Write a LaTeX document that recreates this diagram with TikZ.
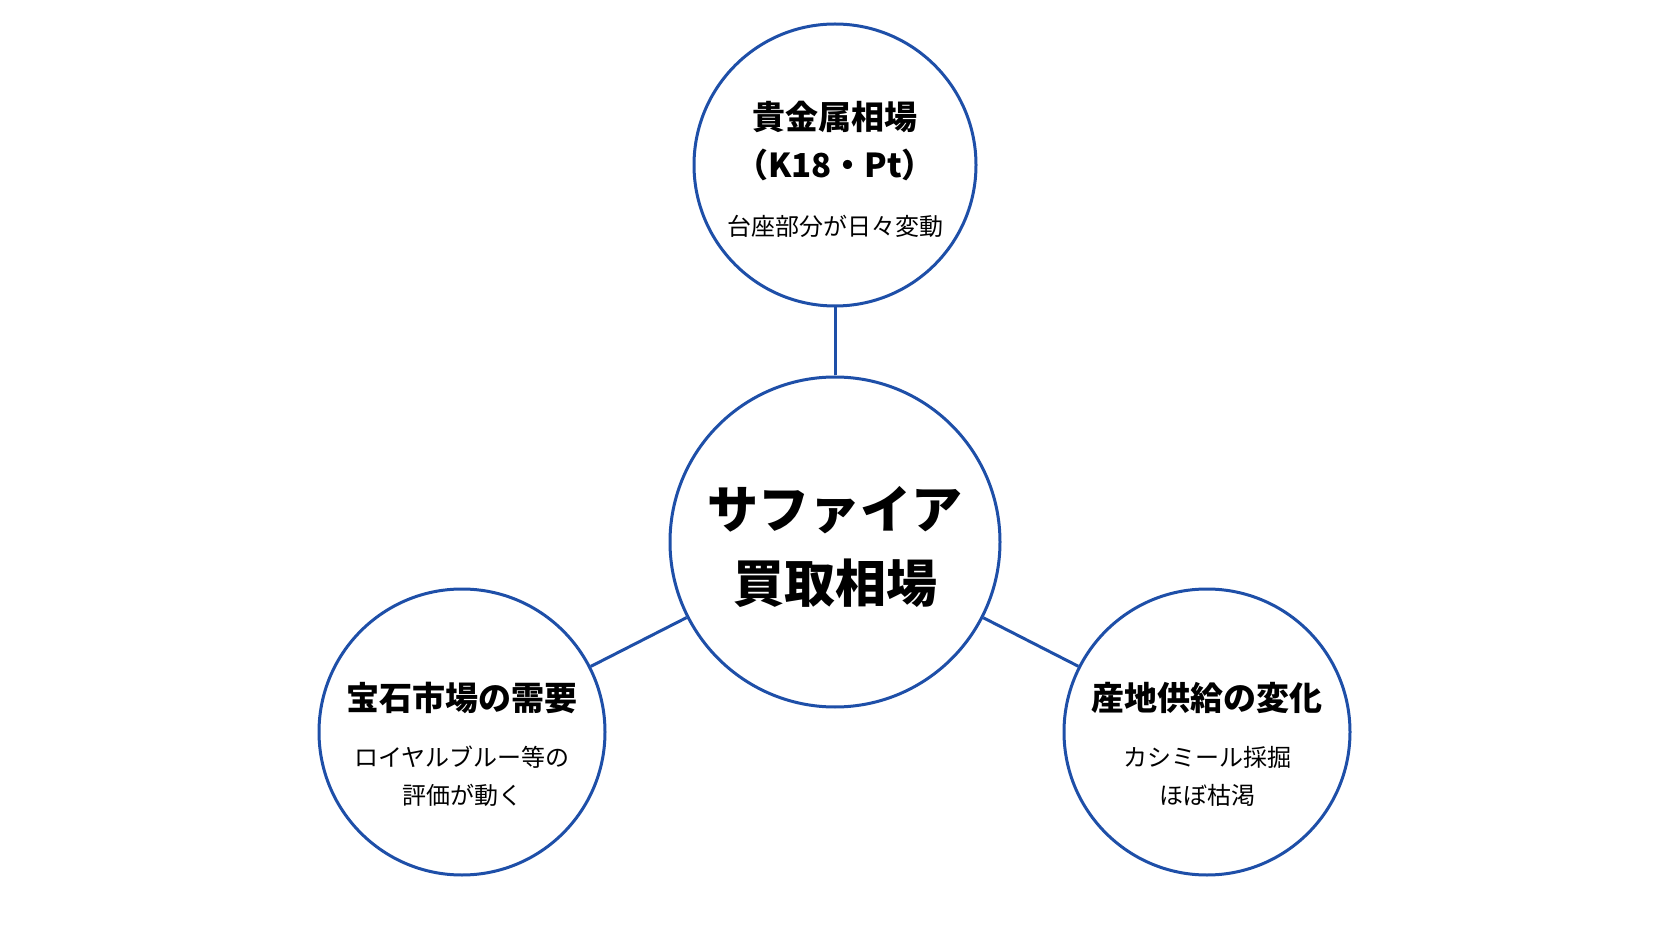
\documentclass[tikz,border=0pt]{standalone}
\usepackage{fontspec}
\setmainfont{Noto Sans CJK JP}
\definecolor{ringblue}{HTML}{1E4FA8}
\begin{document}
\begin{tikzpicture}[x=0.5pt, y=-0.5pt]
    \tikzset{
	ring/.style={circle, draw=ringblue, line width=1.5pt, fill=white, inner sep=0pt},
	link/.style={draw=ringblue, line width=1.5pt},
	head/.style={font=\fontsize{16.5}{24}\selectfont\bfseries, align=center},
	note/.style={font=\fontsize{12}{19}\selectfont, align=center}
    }
    \useasboundingbox (0,0) rectangle (1672,941);

    \node[ring, minimum size=165pt] (main) at (835,542) {};
    \node[ring, minimum size=141pt] (metal) at (835,165) {};
    \node[ring, minimum size=143pt] (gem) at (462,732) {};
    \node[ring, minimum size=143pt] (mine) at (1207,732) {};

    \draw[link] (main) -- (metal);
    \draw[link] (main) -- (gem);
    \draw[link] (main) -- (mine);

    \node[font=\fontsize{25.5}{37}\selectfont\bfseries, align=center] (title) at (835,547) {サファイア\\買取相場};

    \node[head] (metalhead) at (835,141) {貴金属相場\\（K18・Pt）};
    \node[note] (metalnote) at (835,226) {台座部分が日々変動};

    \node[head] (gemhead) at (462,698) {宝石市場の需要};
    \node[note] (gemnote) at (462,776) {ロイヤルブルー等の\\評価が動く};

    \node[head] (minehead) at (1207,698) {産地供給の変化};
    \node[note] (minenote) at (1207,776) {カシミール採掘\\ほぼ枯渇};
\end{tikzpicture}
\end{document}
